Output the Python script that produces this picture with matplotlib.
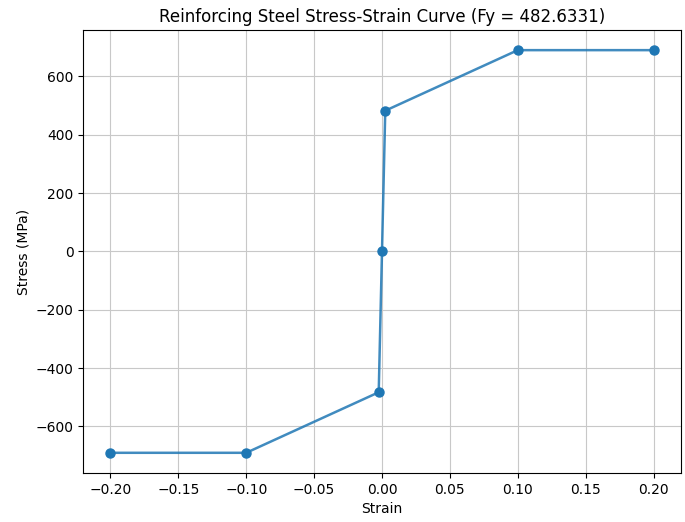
import matplotlib
matplotlib.use("Agg")
import matplotlib.pyplot as plt

Fy = 482.6331
strain = [-0.2, -0.1, -0.002413, 0.0, 0.002413, 0.1, 0.2]
stress = [-690.17, -690.17, -482.6331, 0.0, 482.6331, 690.17, 690.17]

fig, ax = plt.subplots(figsize=(6.85, 5.22), dpi=100)
ax.plot(strain, stress, color="#1f77b4", alpha=0.85, linewidth=1.8)
ax.plot(strain, stress, "o", color="#1f77b4", markersize=6.5)
ax.set_title(f"Reinforcing Steel Stress-Strain Curve (Fy = {Fy})", fontsize=12)
ax.set_xlabel("Strain")
ax.set_ylabel("Stress (MPa)")
ax.grid(True, color="#c8c8c8")
fig.subplots_adjust(left=0.1216, right=0.9937, top=0.9425, bottom=0.094)
fig.savefig("out.png")
